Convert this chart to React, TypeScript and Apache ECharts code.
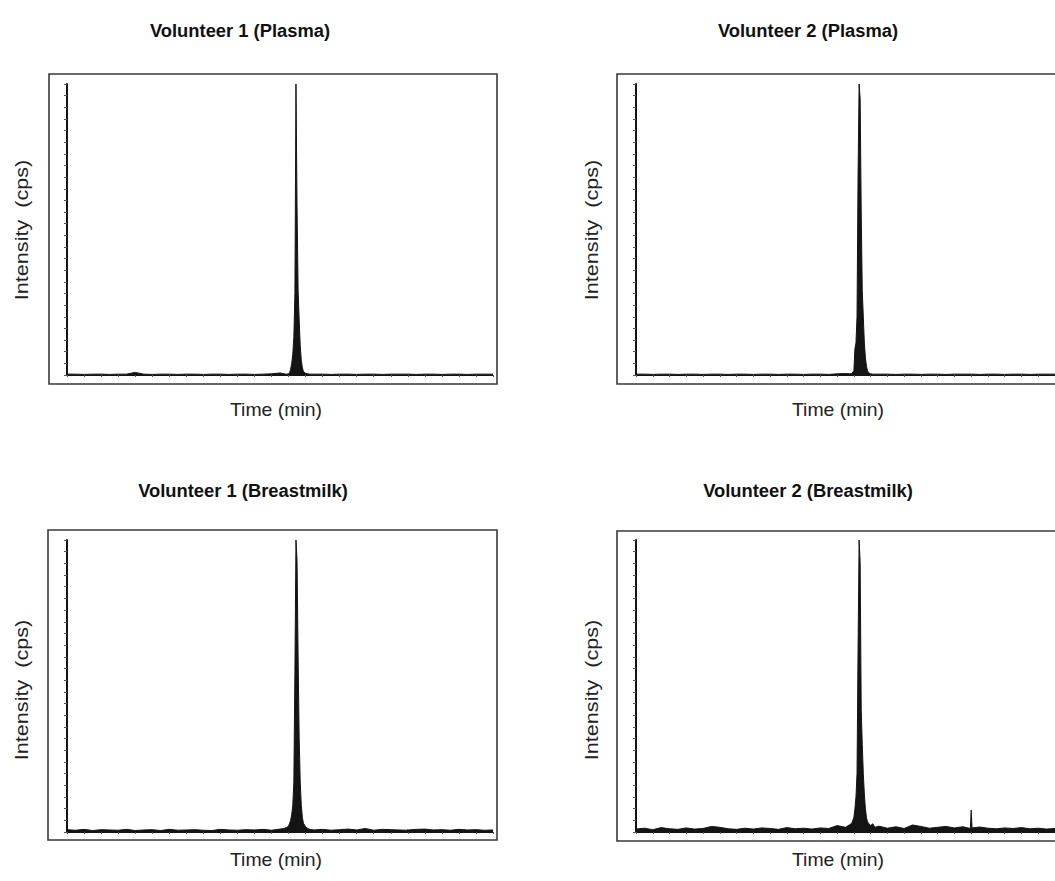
import React, { useEffect, useRef } from "react";
import * as echarts from "echarts";

// Retention time grid (min)
const TIME = [
  0, 0.2, 0.4, 0.6, 0.8, 1.0, 1.2, 1.4, 1.6, 1.8, 2.0, 2.2, 2.4, 2.6, 2.8, 3.0, 3.2, 3.4, 3.6, 3.8, 4.0, 4.2, 4.4, 4.6, 4.8, 5.0,
  5.1, 5.15, 5.2, 5.225, 5.25, 5.275, 5.3, 5.325, 5.35, 5.375, 5.4, 5.425, 5.45, 5.475, 5.5, 5.525, 5.55, 5.6, 5.65, 5.7,
  5.8, 6.0, 6.2, 6.4, 6.6, 6.8, 7.0, 7.2, 7.4, 7.6, 7.8, 7.98, 8.0, 8.02, 8.2, 8.4, 8.6, 8.8, 9.0, 9.2, 9.4, 9.6, 9.8, 10.0,
];

// Relative intensity (% of max)
const V1_PLASMA = [
  0.3, 0.3, 0.2, 0.3, 0.3, 0.2, 0.3, 0.3, 0.9, 0.3, 0.2, 0.3, 0.3, 0.2, 0.3, 0.3, 0.2, 0.3, 0.3, 0.2, 0.3, 0.3, 0.2, 0.3, 0.4, 0.7,
  0.4, 0.3, 0.4, 0.8, 2, 4, 7, 13, 28, 100, 58, 29, 19, 10, 5, 2.5, 1.2, 0.6, 0.4, 0.3,
  0.3, 0.3, 0.2, 0.3, 0.3, 0.2, 0.3, 0.3, 0.2, 0.3, 0.3, 0.3, 0.3, 0.3, 0.2, 0.3, 0.3, 0.2, 0.3, 0.3, 0.2, 0.3, 0.3, 0.3,
];
const V2_PLASMA = [
  0.3, 0.3, 0.2, 0.3, 0.3, 0.2, 0.3, 0.3, 0.2, 0.3, 0.3, 0.2, 0.3, 0.3, 0.2, 0.3, 0.3, 0.2, 0.3, 0.3, 0.2, 0.3, 0.3, 0.2, 0.4, 0.5,
  0.4, 0.5, 1.5, 9, 11, 20, 69, 100, 95, 56, 29, 20, 11, 6, 3, 1.5, 0.8, 0.4, 0.3, 0.3,
  0.3, 0.3, 0.2, 0.3, 0.3, 0.2, 0.3, 0.3, 0.2, 0.3, 0.3, 0.3, 0.3, 0.3, 0.2, 0.3, 0.3, 0.2, 0.3, 0.3, 0.2, 0.3, 0.3, 0.3,
];
const V1_MILK = [
  0.8, 0.6, 0.9, 0.5, 0.8, 0.7, 0.6, 0.9, 0.5, 0.7, 0.8, 0.5, 0.9, 0.6, 0.7, 0.8, 0.6, 0.5, 0.9, 0.7, 0.6, 0.8, 0.7, 0.9, 0.6, 1.0,
  1.2, 1.5, 2, 3, 4, 6, 9, 17, 55, 100, 93, 60, 32, 17, 9, 5, 3, 1.8, 1.2, 0.9,
  0.7, 0.9, 0.6, 0.8, 1.0, 0.7, 1.2, 0.6, 0.9, 0.8, 0.7, 0.6, 0.8, 0.7, 0.9, 1.0, 0.7, 0.8, 0.6, 0.9, 0.7, 0.8, 0.6, 0.7,
];
const V2_MILK = [
  1.0, 1.3, 0.8, 1.5, 1.1, 0.9, 1.4, 1.0, 1.2, 1.9, 1.6, 1.1, 0.9, 1.3, 1.0, 1.4, 1.2, 0.9, 1.5, 1.1, 1.3, 1.0, 1.4, 1.2, 2.2, 1.6,
  2.5, 3, 5, 8, 12, 20, 63, 100, 92, 42, 30, 20, 13, 8, 5, 3.5, 3, 2.2, 2.8, 1.6,
  2.0, 1.3, 1.8, 1.2, 2.4, 1.9, 1.3, 1.6, 1.9, 1.4, 1.8, 1.2, 7.5, 1.4, 1.7, 1.3, 1.1, 1.4, 1.2, 1.5, 1.1, 1.3, 1.0, 1.2,
];

const TITLES = [
  "Volunteer 1 (Plasma)",
  "Volunteer 2 (Plasma)",
  "Volunteer 1 (Breastmilk)",
  "Volunteer 2 (Breastmilk)",
];
const SERIES = [V1_PLASMA, V2_PLASMA, V1_MILK, V2_MILK];
const X_NAME = "Time (min)";
const Y_NAME = "Intensity  (cps)";

const FONT = '"Liberation Sans", Arial, Helvetica, sans-serif';
const INK = "#141414";

const PANELS = [
  { grid: { left: 67, top: 84, width: 426, height: 291 }, frame: [49, 74, 448, 310], title: [240, 31], xName: [276, 410], yName: [22, 230] },
  { grid: { left: 636, top: 84, width: 426, height: 291 }, frame: [617, 74, 449, 310], title: [808, 31], xName: [838, 410], yName: [592, 230] },
  { grid: { left: 67, top: 540, width: 426, height: 292 }, frame: [48, 530, 449, 310], title: [243, 491], xName: [276, 860], yName: [22, 690] },
  { grid: { left: 636, top: 540, width: 426, height: 292 }, frame: [617, 531, 449, 310], title: [808, 491], xName: [838, 860], yName: [592, 690] },
];

export default function App() {
  const ref = useRef<HTMLDivElement>(null);
  useEffect(() => {
    document.body.style.margin = "0";
    if (!ref.current) return;
    const chart = echarts.init(ref.current, null, { renderer: "svg" });

    const graphic: any[] = [];
    PANELS.forEach((p, i) => {
      graphic.push({
        type: "rect",
        shape: { x: p.frame[0], y: p.frame[1], width: p.frame[2], height: p.frame[3] },
        style: { fill: "none", stroke: "#3a3a3a", lineWidth: 1.6 },
        silent: true,
        z: 0,
      });
      graphic.push({
        type: "text",
        x: p.title[0],
        y: p.title[1],
        scaleX: 1.02,
        style: { text: TITLES[i], fontSize: 18, fontWeight: "bold", fontFamily: FONT, fill: "#111", align: "center", verticalAlign: "middle" },
      });
      graphic.push({
        type: "text",
        x: p.xName[0],
        y: p.xName[1],
        scaleX: 1.08,
        style: { text: X_NAME, fontSize: 18, fontFamily: FONT, fill: "#222", align: "center", verticalAlign: "middle" },
      });
      graphic.push({
        type: "text",
        x: p.yName[0],
        y: p.yName[1],
        rotation: Math.PI / 2,
        scaleX: 1.2,
        style: { text: Y_NAME, fontSize: 18, fontFamily: FONT, fill: "#222", align: "center", verticalAlign: "middle" },
      });
    });

    chart.setOption({
      animation: false,
      backgroundColor: "#ffffff",
      grid: PANELS.map((p) => ({ ...p.grid, containLabel: false })),
      xAxis: PANELS.map((_, i) => ({
        type: "value",
        gridIndex: i,
        min: 0,
        max: 10,
        interval: 0.4,
        axisLine: { show: true, onZero: false, lineStyle: { color: INK, width: 1 } },
        axisTick: { show: true, length: 2, lineStyle: { color: "#555" } },
        axisLabel: { show: false },
        splitLine: { show: false },
      })),
      yAxis: PANELS.map((_, i) => ({
        type: "value",
        gridIndex: i,
        min: 0,
        max: 100,
        interval: 4,
        axisLine: { show: true, lineStyle: { color: INK, width: 2 } },
        axisTick: { show: true, length: 3, lineStyle: { color: "#555" } },
        axisLabel: { show: false },
        splitLine: { show: false },
      })),
      series: SERIES.map((vals, i) => ({
        type: "line",
        xAxisIndex: i,
        yAxisIndex: i,
        data: TIME.map((t, k) => [t, vals[k]]),
        symbol: "none",
        lineStyle: { color: INK, width: 1 },
        areaStyle: { color: INK, opacity: 1 },
        z: 3,
      })),
      graphic,
    });

    return () => chart.dispose();
  }, []);

  return <div ref={ref} style={{ width: 1055, height: 881 }} />;
}
